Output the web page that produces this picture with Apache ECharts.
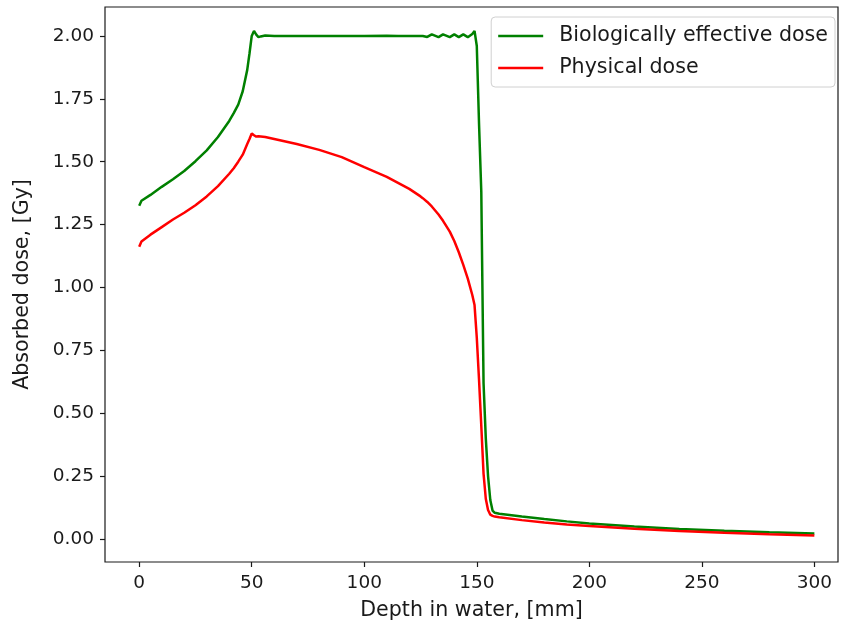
<!DOCTYPE html>
<html>
<head>
<meta charset="utf-8">
<script src="https://cdn.jsdelivr.net/npm/echarts@6/dist/echarts.min.js"></script>
<style>html,body{margin:0;padding:0;background:#fff}#c{width:842px;height:626px}</style>
</head>
<body>
<div id="c"></div>
<script>
// Depth grid (mm)
const depth = [0, 1, 5, 10, 15, 20, 25, 30, 35, 40, 42, 44, 46, 48, 49, 50, 51, 52, 53, 54, 56, 60, 70, 80, 90, 100, 110, 115, 120, 125, 126, 128, 130, 133, 135, 138, 140, 142, 144, 146, 148, 149, 150, 151, 152, 153, 154, 155, 156, 157, 158, 160, 170, 180, 190, 200, 220, 240, 260, 280, 300];
// Biologically effective dose (Gy)
const bioDose = [1.325, 1.345, 1.368, 1.40, 1.43, 1.463, 1.502, 1.545, 1.598, 1.662, 1.693, 1.727, 1.78, 1.865, 1.93, 2.00, 2.02, 2.005, 1.995, 1.998, 2.002, 2.0, 2.0, 2.0, 2.0, 2.0, 2.001, 2.0, 2.0, 2.0, 2.0, 1.996, 2.006, 1.995, 2.006, 1.995, 2.006, 1.995, 2.006, 1.995, 2.008, 2.02, 1.96, 1.65, 1.38, 0.62, 0.40, 0.25, 0.155, 0.113, 0.104, 0.100, 0.089, 0.079, 0.070, 0.062, 0.050, 0.040, 0.033, 0.027, 0.022];
// Physical dose (Gy)
const physDose = [1.162, 1.183, 1.21, 1.24, 1.27, 1.297, 1.327, 1.362, 1.403, 1.452, 1.474, 1.50, 1.528, 1.57, 1.59, 1.612, 1.605, 1.60, 1.601, 1.60, 1.598, 1.59, 1.57, 1.547, 1.518, 1.478, 1.44, 1.416, 1.392, 1.362, 1.355, 1.34, 1.322, 1.29, 1.265, 1.222, 1.185, 1.14, 1.09, 1.035, 0.97, 0.93, 0.80, 0.632, 0.45, 0.26, 0.16, 0.115, 0.097, 0.092, 0.089, 0.086, 0.075, 0.066, 0.058, 0.052, 0.041, 0.032, 0.025, 0.019, 0.014];
const xTicks = [0, 50, 100, 150, 200, 250, 300];
const yTicks = [0, 0.25, 0.5, 0.75, 1.0, 1.25, 1.5, 1.75, 2.0];
const seriesNames = ['Biologically effective dose', 'Physical dose'];

const font = 'DejaVu Sans';
const txt = '#1a1a1a';
const chart = echarts.init(document.getElementById('c'), null, {renderer: 'canvas'});
chart.setOption({
  animation: false,
  backgroundColor: '#fff',
  grid: {left: 105, right: 4, top: 7, bottom: 64, show: true, borderColor: '#1a1a1a', borderWidth: 1.2, backgroundColor: 'transparent'},
  legend: {
    orient: 'vertical', right: 7, top: 17,
    data: seriesNames,
    icon: 'rect', itemWidth: 45, itemHeight: 2.5, itemGap: 10,
    padding: [8, 7, 8, 7],
    backgroundColor: 'rgba(255,255,255,0.8)', borderColor: '#d0d0d0', borderWidth: 1, borderRadius: 4,
    textStyle: {fontFamily: font, fontSize: 20.6, color: txt, lineHeight: 22, padding: [0, 0, 0, 11]}
  },
  xAxis: {
    type: 'value', min: -15.2, max: 310.5,
    name: 'Depth in water, [mm]', nameLocation: 'middle', nameGap: 38,
    nameTextStyle: {fontFamily: font, fontSize: 20.6, color: txt},
    axisLine: {show: false, onZero: false},
    axisTick: {show: true, length: 5, inside: false, customValues: xTicks, lineStyle: {color: '#1a1a1a', width: 1.2}},
    axisLabel: {customValues: xTicks, fontFamily: font, fontSize: 18.5, color: txt, margin: 12, formatter: v => String(v)},
    splitLine: {show: false}
  },
  yAxis: {
    type: 'value', min: -0.0915, max: 2.115,
    name: 'Absorbed dose, [Gy]', nameLocation: 'middle', nameGap: 72, nameRotate: 90,
    nameTextStyle: {fontFamily: font, fontSize: 20.6, color: txt},
    axisLine: {show: false, onZero: false},
    axisTick: {show: true, length: 5, inside: false, customValues: yTicks, lineStyle: {color: '#1a1a1a', width: 1.2}},
    axisLabel: {customValues: yTicks, fontFamily: font, fontSize: 18.5, color: txt, margin: 11, formatter: v => v.toFixed(2)},
    splitLine: {show: false}
  },
  series: [
    {name: seriesNames[0], type: 'line', showSymbol: false, symbol: 'none', color: '#008000',
     lineStyle: {color: '#008000', width: 2.5}, data: depth.map((d, i) => [d, bioDose[i]])},
    {name: seriesNames[1], type: 'line', showSymbol: false, symbol: 'none', color: '#ff0000',
     lineStyle: {color: '#ff0000', width: 2.5}, data: depth.map((d, i) => [d, physDose[i]])}
  ]
});
</script>
</body>
</html>
